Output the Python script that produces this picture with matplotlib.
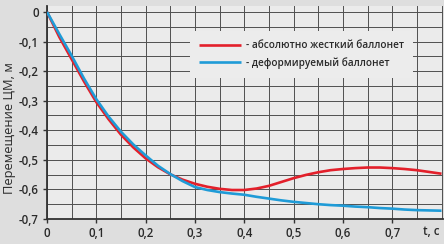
import matplotlib
matplotlib.use("Agg")
import matplotlib.pyplot as plt
from matplotlib.ticker import MultipleLocator, FixedLocator

t = [0, 0.025, 0.05, 0.075, 0.1, 0.125, 0.15, 0.175, 0.2, 0.225, 0.25, 0.275, 0.3, 0.325, 0.35, 0.375,
     0.4, 0.425, 0.45, 0.475, 0.5, 0.525, 0.55, 0.575, 0.6, 0.625, 0.65, 0.675, 0.7, 0.725, 0.75, 0.775, 0.8]
rigid = [0, -0.085, -0.16, -0.235, -0.305, -0.363, -0.415, -0.458, -0.495, -0.525, -0.549, -0.567,
         -0.581, -0.591, -0.598, -0.602, -0.602, -0.597, -0.588, -0.575, -0.562, -0.551, -0.542, -0.535,
         -0.531, -0.528, -0.526, -0.526, -0.528, -0.531, -0.535, -0.541, -0.547]
deform = [0, -0.075, -0.148, -0.225, -0.295, -0.354, -0.405, -0.448, -0.485, -0.52, -0.548, -0.572,
          -0.592, -0.602, -0.609, -0.614, -0.618, -0.625, -0.631, -0.637, -0.642, -0.646, -0.65, -0.653,
          -0.655, -0.658, -0.66, -0.663, -0.665, -0.668, -0.67, -0.671, -0.672]
labels = ["- абсолютно жесткий баллонет", "- деформируемый баллонет"]
xticks = [0, 0.1, 0.2, 0.3, 0.4, 0.5, 0.6, 0.7]
xticklabels = ["0", "0,1", "0,2", "0,3", "0,4", "0,5", "0,6", "0,7"]
yticks = [0, -0.1, -0.2, -0.3, -0.4, -0.5, -0.6, -0.7]
yticklabels = ["0", "-0,1", "-0,2", "-0,3", "-0,4", "-0,5", "-0,6", "-0,7"]

plt.rcParams['font.family'] = ['Open Sans', 'DejaVu Sans']
txtc = '#2a2a2a'

fig = plt.figure(figsize=(4.44, 2.44), dpi=100, facecolor='#dedede')
ax = fig.add_axes([47/444, 1-219/244, 396/444, 213/244])
ax.set_facecolor('#ebebeb')

ax.plot(t, rigid, color='#e3202b', lw=1.9, label=labels[0], zorder=3, solid_capstyle='butt')
ax.plot(t, deform, color='#1f9bd7', lw=1.9, label=labels[1], zorder=3, solid_capstyle='butt')

ax.set_xlim(0, 0.803)
ax.set_ylim(-0.7, 0.02)
ax.xaxis.set_major_locator(FixedLocator(xticks))
ax.set_xticklabels(xticklabels)
ax.yaxis.set_major_locator(FixedLocator(yticks))
ax.set_yticklabels(yticklabels)
ax.xaxis.set_minor_locator(MultipleLocator(0.05))
ax.yaxis.set_minor_locator(MultipleLocator(0.05))
ax.grid(True, which='both', color='#505050', lw=0.7)
ax.set_axisbelow(True)
ax.tick_params(which='major', length=3, width=1, color='#333333', labelsize=8.3,
               labelcolor=txtc, pad=3)
ax.tick_params(which='minor', length=0)
for lab in ax.get_xticklabels() + ax.get_yticklabels():
    lab.set_fontweight('semibold')
for s in ['top', 'right']:
    ax.spines[s].set_visible(False)
ax.spines['left'].set_color('#333333')
ax.spines['bottom'].set_color('#333333')
ax.spines['left'].set_linewidth(1.3)
ax.spines['bottom'].set_linewidth(1.3)

ax.text(0.78, -0.721, "t, c", ha='center', va='top', fontsize=8.3, color=txtc,
        fontweight='semibold')
fig.text(10/444, 1-128/244, "Перемещение ЦМ, м", rotation=90, ha='center', va='center',
         fontsize=9.3, color=txtc, fontweight='medium')

leg = ax.legend(loc='upper left', bbox_to_anchor=((190-47)/396, 1-(28-3)/213),
                frameon=True, fontsize=7.2, handlelength=4.2, handletextpad=0.5,
                borderpad=0.9, labelspacing=0.6, fancybox=True, borderaxespad=0)
leg.get_frame().set_facecolor('#ececec')
leg.get_frame().set_edgecolor('none')
leg.get_frame().set_alpha(1)
for tx in leg.get_texts():
    tx.set_color(txtc)
    tx.set_fontweight('semibold')

fig.savefig("out.png", dpi=100, facecolor=fig.get_facecolor())
